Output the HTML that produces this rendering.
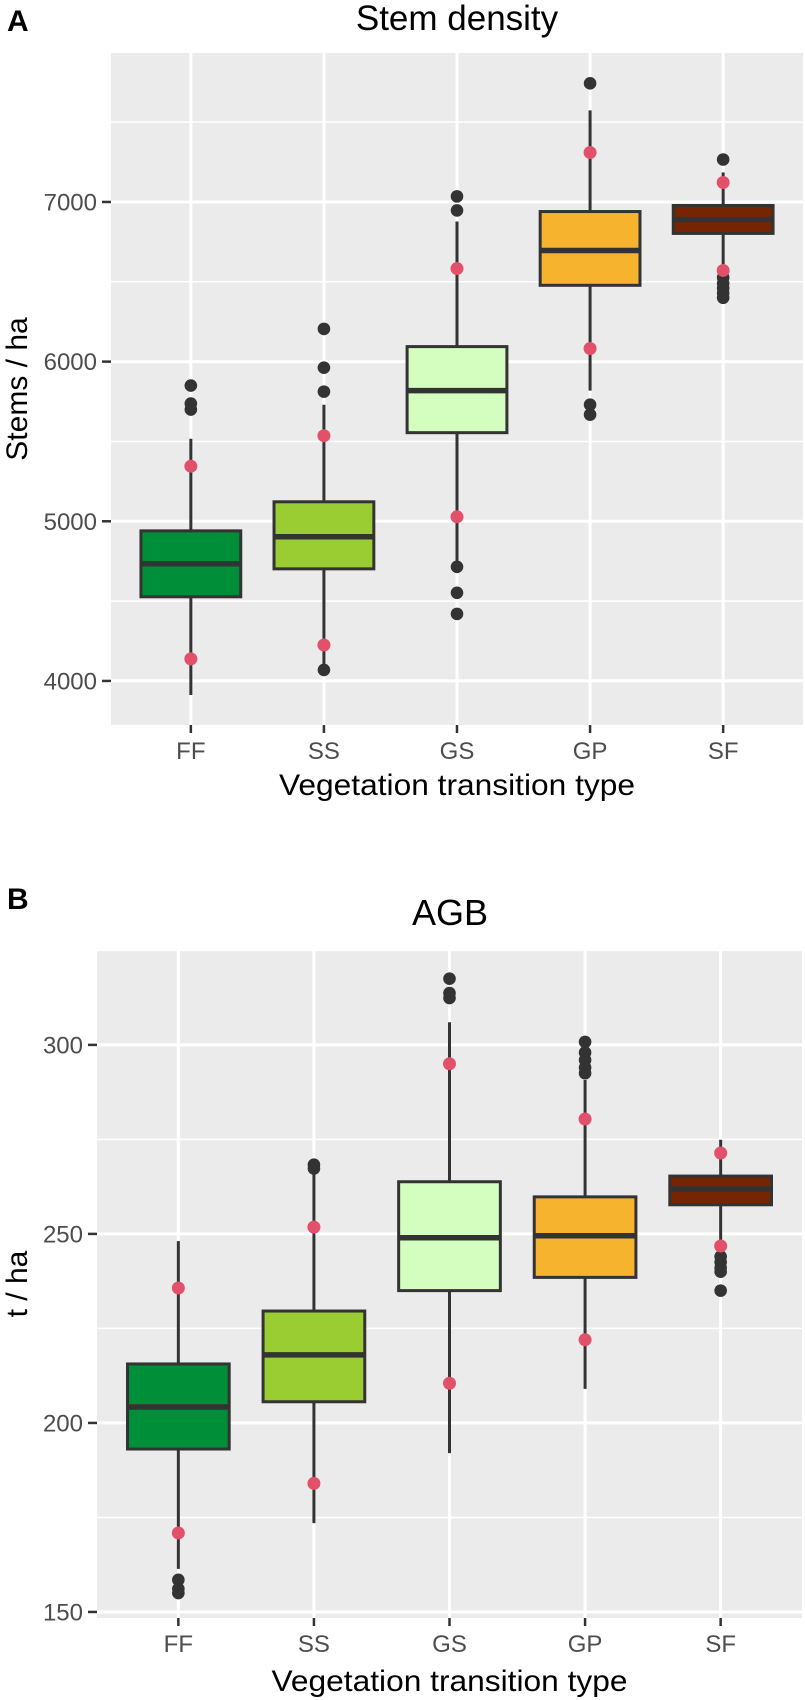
<!DOCTYPE html>
<html><head><meta charset="utf-8"><style>
html,body{margin:0;padding:0;background:#fff;}
svg{display:block;font-family:"Liberation Sans",Arial,sans-serif;}
</style></head><body>
<svg id="fig" width="805" height="1700" viewBox="0 0 805 1700" xmlns="http://www.w3.org/2000/svg">
<text x="7" y="31" font-size="30" font-weight="bold" fill="#000">A</text>
<text x="457" y="30" font-size="35" text-anchor="middle" fill="#000">Stem density</text>
<text x="7" y="909" font-size="30" font-weight="bold" fill="#000">B</text>
<text x="450" y="925" font-size="36" text-anchor="middle" fill="#000">AGB</text>
<g id="pa"></g>
<g id="pb"></g>
</svg>
<script>
const categories = ["FF","SS","GS","GP","SF"];
const fills = ["#008f39","#9acd32","#d4fdc0","#f6b32d","#772500"];

// Panel A: Stem density
const aQ1 = [4527,4702,5555,6478,6803];
const aMed = [4734,4903,5818,6696,6890];
const aQ3 = [4940,5122,6094,6940,6978];
const aLo = [3912,4090,4746,5818,6560];
const aHi = [5517,5730,6878,7574,7185];
const aP025 = [4138,4225,5028,6082,6571];
const aP975 = [5345,5536,6583,7310,7122];
const aOut = [[5850,5737,5700],[6205,5962,5812,4069],[7035,6947,4715,4552,4420],[7743,5730,5668],[7266,6527,6490,6460,6430,6400]];
const aTicks = [4000,5000,6000,7000];
const aMinor = [4500,5500,6500,7500];

// Panel B: AGB
const bQ1 = [193.1,205.6,235,238.5,257.7];
const bMed = [204.2,218,249,249.5,261.9];
const bQ3 = [215.6,229.6,263.8,259.8,265.3];
const bLo = [161.4,173.5,192,209,247.5];
const bHi = [248.1,266.5,306,290.7,274.9];
const bP025 = [170.9,184,210.5,222,246.8];
const bP975 = [235.7,251.8,295,280.4,271.4];
const bOut = [[158.5,156.1,155],[268.3,267.3],[317.5,313.7,312.4],[300.8,298,296,294,292.5],[244,242.5,241,240,235]];
const bTicks = [150,200,250,300];
const bMinor = [175,225,275,325];

const NS = "http://www.w3.org/2000/svg";
function mk(parent, tag, attrs) {
  const e = document.createElementNS(NS, tag);
  for (const k in attrs) e.setAttribute(k, attrs[k]);
  parent.appendChild(e);
  return e;
}

function panel(g, cfg) {
  const L = cfg.left, R = cfg.right, T = cfg.top, B = cfg.bottom;
  const step = (R - L) / (categories.length + 0.2);
  const xs = i => L + (0.6 + i) * step;
  const ys = v => T + (cfg.vmax - v) / (cfg.vmax - cfg.vmin) * (B - T);
  const bg = mk(g, "rect", {x:L, y:T, width:R-L, height:B-T, fill:"#ebebeb"});
  
  
  cfg.minor.forEach(v => {
    const y = ys(v);
    if (y < T || y > B) return;
    const l = mk(g, "line", {x1:L, x2:R, y1:y, y2:y, stroke:"#fff", "stroke-width":1.5});
    
    
  });
  cfg.ticks.forEach(v => {
    const y = ys(v);
    const l = mk(g, "line", {x1:L, x2:R, y1:y, y2:y, stroke:"#fff", "stroke-width":3});
    
    
    const t = mk(g, "line", {x1:L-9, x2:L, y1:y, y2:y, stroke:"#333", "stroke-width":2.5});
    
    
    const tx = mk(g, "text", {x:L-14, y:y+8.5, "font-size":24, "text-anchor":"end", fill:"#4d4d4d"});
    tx.textContent = v;
    
    
  });
  categories.forEach((c, i) => {
    const x = xs(i);
    const l = mk(g, "line", {x1:x, x2:x, y1:T, y2:B, stroke:"#fff", "stroke-width":3});
    
    
    const t = mk(g, "line", {x1:x, x2:x, y1:B, y2:B+8, stroke:"#333", "stroke-width":2.5});
    
    
    const tx = mk(g, "text", {x:x, y:B+34, "font-size":24, "text-anchor":"middle", fill:"#4d4d4d"});
    tx.textContent = c;
    
    
  });
  const hw = step * 0.375;
  categories.forEach((c, i) => {
    const x = xs(i);
    const grp = mk(g, "g", {});
    
    
    const w1 = mk(grp, "line", {x1:x, x2:x, y1:ys(cfg.hi[i]), y2:ys(cfg.q3[i]), stroke:"#333", "stroke-width":3});
    
    
    const w2 = mk(grp, "line", {x1:x, x2:x, y1:ys(cfg.q1[i]), y2:ys(cfg.lo[i]), stroke:"#333", "stroke-width":3});
    
    
    const r = mk(grp, "rect", {x:x-hw, y:ys(cfg.q3[i]), width:2*hw, height:ys(cfg.q1[i])-ys(cfg.q3[i]), fill:fills[i], stroke:"#333", "stroke-width":3});
    
    
    const m = mk(grp, "line", {x1:x-hw, x2:x+hw, y1:ys(cfg.med[i]), y2:ys(cfg.med[i]), stroke:"#333", "stroke-width":5.5});
    
    
    cfg.out[i].forEach(v => {
      const p = mk(grp, "circle", {cx:x, cy:ys(v), r:6.3, fill:"#333"});
      
      
    });
    [cfg.p025[i], cfg.p975[i]].forEach(v => {
      const p = mk(grp, "circle", {cx:x, cy:ys(v), r:6.5, fill:"#e2506a"});
      
      
    });
  });
  const xt = mk(g, "text", {x:(L+R)/2, y:cfg.xtitleY, "font-size":30, "text-anchor":"middle", fill:"#000", textLength:356, lengthAdjust:"spacingAndGlyphs"});
  xt.textContent = "Vegetation transition type";
  
  
  const cy = (T + B) / 2;
  const yt = mk(g, "text", {x:0, y:0, "font-size":30, "text-anchor":"middle", fill:"#000", transform:"translate(" + cfg.ytitleX + "," + cy + ") rotate(-90)"});
  yt.textContent = cfg.ytitle;
  
  
}

panel(document.getElementById("pa"), {left:111, right:803, top:53, bottom:725, vmin:3724, vmax:7933,
  q1:aQ1, med:aMed, q3:aQ3, lo:aLo, hi:aHi, p025:aP025, p975:aP975, out:aOut, ticks:aTicks, minor:aMinor,
  xtitleY:795, ytitleX:27, ytitle:"Stems / ha"});
panel(document.getElementById("pb"), {left:97, right:802, top:950, bottom:1618, vmin:148.4, vmax:325.1,
  q1:bQ1, med:bMed, q3:bQ3, lo:bLo, hi:bHi, p025:bP025, p975:bP975, out:bOut, ticks:bTicks, minor:bMinor,
  xtitleY:1691, ytitleX:27, ytitle:"t / ha"});
</script>
</body></html>
